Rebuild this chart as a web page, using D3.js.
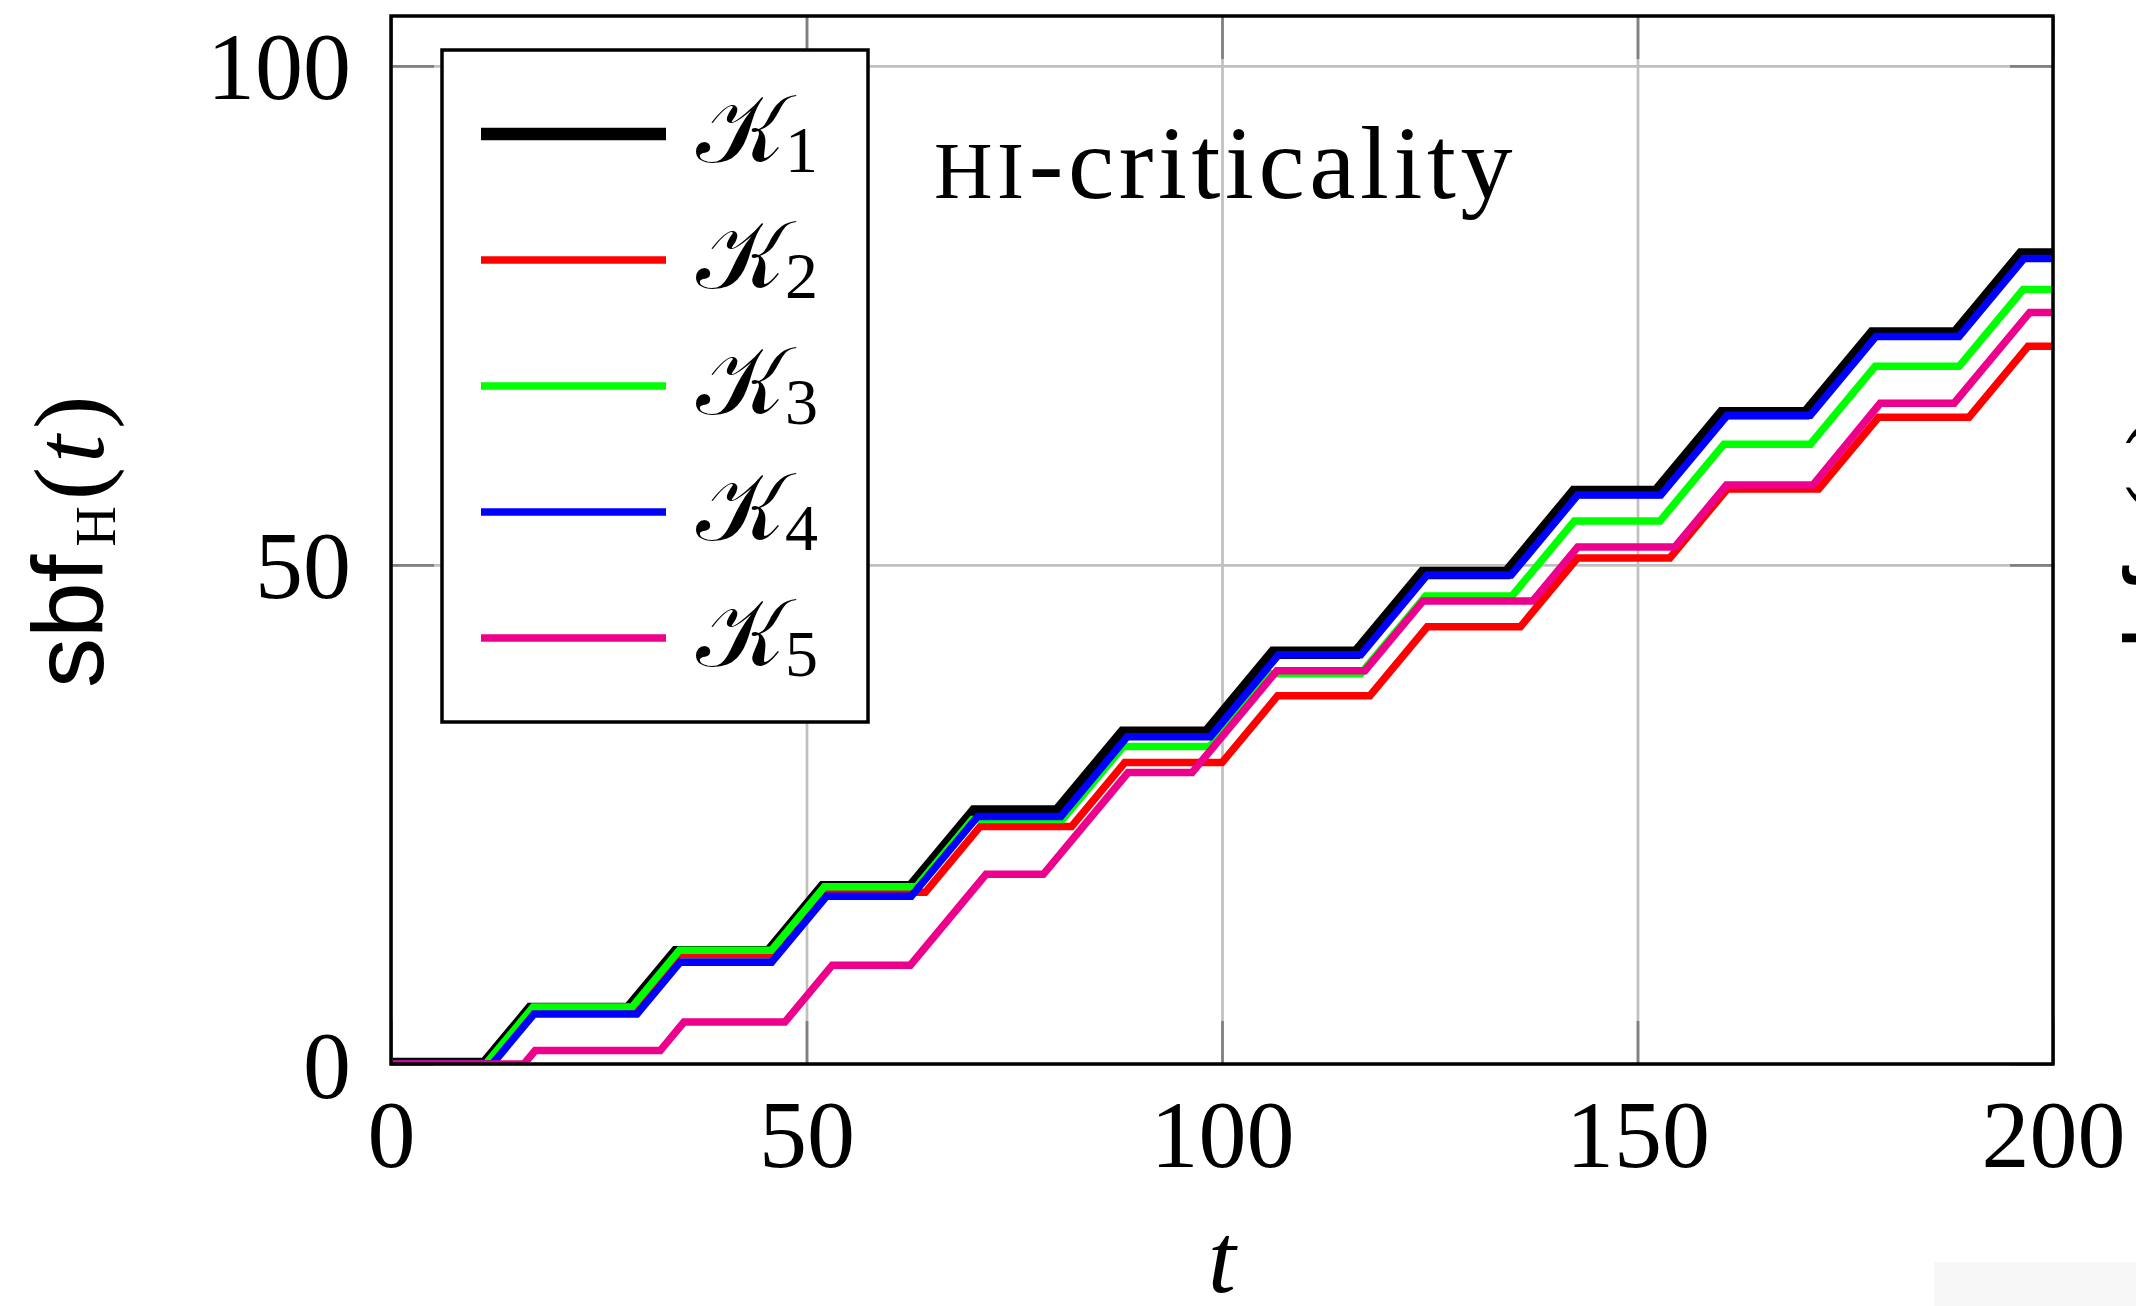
<!DOCTYPE html>
<html>
<head>
<meta charset="utf-8">
<script src="https://cdn.jsdelivr.net/npm/d3@7"></script>
<style>
  body { margin: 0; background: #fff; }
  svg { display: block; }
  .tick-label { font-family: "Liberation Serif", serif; font-size: 96px; fill: #000; }
</style>
</head>
<body>
<div id="chart"></div>
<script>
// data: break points [t, sbf] of each supply bound function
const xTicks = [0, 50, 100, 150, 200];
const yTicks = [0, 50, 100];
const seriesLabels = ["1", "2", "3", "4", "5"];
const seriesColors = ["#000000", "#ff0000", "#00ff00", "#0000ff", "#ec008c"];

const sbfK1 = [[0,0],[11.3,0],[16.8,5.5],[28.6,5.5],[34.3,11.2],[45.5,11.2],[52,17.7],[62.6,17.7],[70.2,25.3],[80.2,25.3],[88.1,33.2],[98.2,33.2],[106.2,41.2],[116.2,41.2],[124.2,49.2],[134.3,49.2],[142.4,57.3],[152.3,57.3],[160.2,65.2],[170.3,65.2],[178.3,73.2],[188.3,73.2],[196.2,81.1],[200,81.1]];
const sbfK2 = [[0,0],[11.6,0],[16.9,5.3],[29,5.3],[34.7,11.0],[46,11.0],[52.2,17.2],[64.3,17.2],[70.9,23.8],[81.9,23.8],[88.3,30.2],[100,30.2],[106.7,36.9],[117.8,36.9],[124.7,43.8],[135.9,43.8],[142.8,50.7],[153.9,50.7],[160.8,57.6],[171.8,57.6],[179,64.8],[189.9,64.8],[197,71.9],[200,71.9]];
const sbfK3 = [[0,0],[11.4,0],[17.1,5.7],[29,5.7],[34.7,11.4],[45.8,11.4],[52.15,17.75],[63.2,17.75],[69.95,24.5],[80.8,24.5],[88.1,31.8],[98.5,31.8],[105.8,39.1],[116.7,39.1],[124.5,46.9],[134.9,46.9],[142.4,54.4],[152.7,54.4],[160.4,62.1],[170.8,62.1],[178.6,69.9],[188.7,69.9],[196.4,77.6],[200,77.6]];
const sbfK4 = [[0,0],[12.2,0],[17.2,5.0],[29.6,5.0],[34.8,10.2],[45.8,10.2],[52.4,16.8],[62.6,16.8],[70.6,24.8],[80.6,24.8],[88.6,32.8],[98.6,32.8],[106.8,41.0],[116.7,41.0],[124.7,49.0],[134.8,49.0],[142.8,57.0],[152.8,57.0],[160.8,65.0],[170.8,65.0],[178.7,72.9],[188.7,72.9],[196.5,80.7],[200,80.7]];
const sbfK5 = [[0,0],[16,0],[17.35,1.35],[32.4,1.35],[35.25,4.2],[47.4,4.2],[53.1,9.9],[62.5,9.9],[71.6,19.0],[78.5,19.0],[88.7,29.2],[96.4,29.2],[106.6,39.4],[117.2,39.4],[124.2,46.4],[137.4,46.4],[142.8,51.8],[154.5,51.8],[160.7,58.0],[171.1,58.0],[179.2,66.2],[188.1,66.2],[197.2,75.3],[200,75.3]];
const allSeries = [sbfK1, sbfK2, sbfK3, sbfK4, sbfK5];

// 1: SVG + margins
const margin = { top: 16, right: 83, bottom: 242, left: 391 },
      width = 2136 - margin.left - margin.right,
      height = 1306 - margin.top - margin.bottom;

const root = d3.select("#chart").append("svg")
    .attr("width", 2136)
    .attr("height", 1306);

const svg = root.append("g")
    .attr("transform", `translate(${margin.left},${margin.top})`);

// 2: scales
const x = d3.scaleLinear().domain([0, 200]).range([0, width]);
const y = d3.scaleLinear().domain([0, 105]).range([height, 0]);

// 3: grid
svg.append("g")
    .attr("transform", `translate(0,${height})`)
    .call(d3.axisBottom(x).tickValues(xTicks).tickSize(-height).tickFormat(""))
    .call(g => g.select(".domain").remove())
    .call(g => g.selectAll("line").attr("stroke", "#c0c0c0").attr("stroke-width", 2.7));
svg.append("g")
    .call(d3.axisLeft(y).tickValues(yTicks).tickSize(-width).tickFormat(""))
    .call(g => g.select(".domain").remove())
    .call(g => g.selectAll("line").attr("stroke", "#c0c0c0").attr("stroke-width", 2.7));

// 4: the step curves
svg.append("clipPath").attr("id", "plotClip")
    .append("rect").attr("width", width).attr("height", height);

const line = d3.line().x(d => x(d[0])).y(d => y(d[1]));

svg.append("g").attr("clip-path", "url(#plotClip)")
    .selectAll("path")
    .data(allSeries)
    .enter()
    .append("path")
    .attr("d", line)
    .attr("fill", "none")
    .attr("stroke", (d, i) => seriesColors[i])
    .attr("stroke-width", (d, i) => i === 0 ? 12.5 : 7.5)
    .attr("stroke-linejoin", "miter");

// 5: inner ticks on all four sides + tick labels
const tickLen = 43;
function styleTicks(g) {
    g.select(".domain").remove();
    g.selectAll("line").attr("stroke", "#808080").attr("stroke-width", 2.7);
}
svg.append("g")
    .attr("transform", `translate(0,${height})`)
    .call(d3.axisBottom(x).tickValues(xTicks).tickSize(-tickLen).tickFormat(d3.format("d")))
    .call(styleTicks)
    .call(g => g.selectAll("text").attr("class", "tick-label").attr("dy", null).attr("y", 103));
svg.append("g")
    .call(d3.axisTop(x).tickValues(xTicks).tickSize(-tickLen).tickFormat(""))
    .call(styleTicks);
svg.append("g")
    .call(d3.axisLeft(y).tickValues(yTicks).tickSize(-tickLen).tickFormat(d3.format("d")))
    .call(styleTicks)
    .call(g => g.selectAll("text").attr("class", "tick-label").attr("dy", null)
        .attr("x", -40).attr("y", 33).attr("text-anchor", "end"));
svg.append("g")
    .attr("transform", `translate(${width},0)`)
    .call(d3.axisRight(y).tickValues(yTicks).tickSize(-tickLen).tickFormat(""))
    .call(styleTicks);
svg.selectAll(".tick text").attr("fill", "#000").attr("font-size", null).attr("font-family", null);

// frame
svg.append("rect")
    .attr("width", width).attr("height", height)
    .attr("fill", "none").attr("stroke", "#000").attr("stroke-width", 3.5);

// 6: legend
const legend = svg.append("g").attr("transform", "translate(51,34)");
legend.append("rect")
    .attr("width", 426).attr("height", 672)
    .attr("fill", "#fff").attr("stroke", "#000").attr("stroke-width", 3.5);

const rows = legend.selectAll(".row")
    .data(seriesLabels)
    .enter()
    .append("g")
    .attr("class", "row")
    .attr("transform", (d, i) => `translate(0,${84 + i * 126})`);
rows.append("line")
    .attr("x1", 39).attr("x2", 224)
    .attr("stroke", (d, i) => seriesColors[i])
    .attr("stroke-width", (d, i) => i === 0 ? 12.5 : 7.5);
const lab = rows.append("text")
    .attr("x", 254).attr("y", 28)
    .attr("font-family", "'DejaVu Serif', 'DejaVu Sans', serif")
    .attr("font-size", 96);
lab.append("tspan").text("\u{1D4A6}");
lab.append("tspan")
    .attr("font-family", "'Liberation Serif', serif")
    .attr("font-size", 66).attr("dy", 10)
    .text(d => d);

// 7: title text in the plot
const title = svg.append("text")
    .attr("x", 934 - margin.left).attr("y", 198 - margin.top)
    .attr("font-family", "'Liberation Serif', serif")
    .attr("font-size", 104)
    .attr("letter-spacing", 4.6);
title.append("tspan").attr("font-size", 81).text("HI");
title.append("tspan").text("-criticality");

// axis labels
root.append("text")
    .attr("x", 1222).attr("y", 1292)
    .attr("text-anchor", "middle")
    .attr("font-family", "'Liberation Serif', serif")
    .attr("font-style", "italic")
    .attr("font-size", 100)
    .text("t");

function yLabel(tx, ty, sub) {
    const t = root.append("text")
        .attr("transform", `translate(${tx},${ty}) rotate(-90)`)
        .attr("font-family", "'Liberation Serif', serif")
        .attr("font-size", 100);
    t.append("tspan").attr("font-family", "'Liberation Sans', sans-serif").text("sbf");
    t.append("tspan").attr("font-size", 56).attr("dx", 8).attr("dy", 12).text(sub);
    t.append("tspan").attr("dx", 6).attr("dy", -12).text("(");
    t.append("tspan").attr("font-style", "italic").attr("dx", 4).text("t");
    t.append("tspan").attr("dx", 6).text(")");
}
yLabel(103, 688, "H");
// edge of the neighbouring panel, cut off by the picture border
yLabel(2195, 699, "L");

// faint scan smudge, bottom right
root.append("rect")
    .attr("x", 1934).attr("y", 1262).attr("width", 202).attr("height", 44)
    .attr("fill", "#f7f7f7");
</script>
</body>
</html>
